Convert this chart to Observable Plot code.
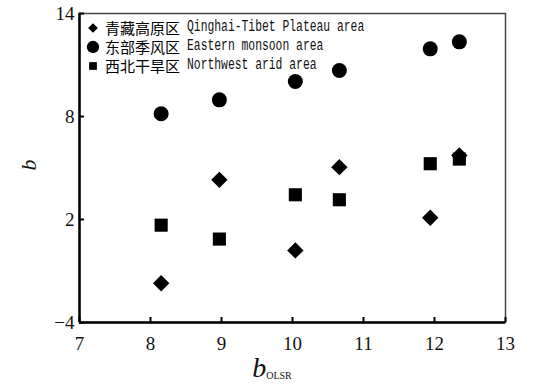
<!DOCTYPE html>
<html>
<head>
<meta charset="utf-8">
<script src="https://cdn.jsdelivr.net/npm/d3@7"></script>
<script src="https://cdn.jsdelivr.net/npm/@observablehq/plot@0.6"></script>
<style>
  html, body { margin: 0; padding: 0; background: #fff; }
  #wrap { position: relative; width: 556px; height: 384px; }
  #legend { position: absolute; left: 86px; top: 18px; }
  .row { display: flex; align-items: center; height: 19px; white-space: nowrap; }
  .row svg { width: 14px; height: 14px; margin-right: 5px; }
  .cn { font-family: "Noto Sans CJK SC", sans-serif; font-size: 15px; line-height: 17px; }
  .en { display: inline-block; font-family: "Liberation Mono", monospace; font-size: 16px; line-height: 17px; transform: scaleX(0.71); transform-origin: left center; margin-left: 7px; color: #111; }
</style>
</head>
<body>
<div id="wrap"></div>
<script>
// Data
const xValues = [8.15, 8.97, 10.04, 10.66, 11.94, 12.35];
const qinghaiTibet = [-1.71, 4.31, 0.2, 5.05, 2.1, 5.73];
const easternMonsoon = [8.16, 8.97, 10.04, 10.68, 11.94, 12.35];
const northwestArid = [1.67, 0.86, 3.44, 3.15, 5.25, 5.52];
const seriesNamesCn = ["青藏高原区", "东部季风区", "西北干旱区"];
const seriesNamesEn = ["Qinghai-Tibet Plateau area", "Eastern monsoon area", "Northwest arid area"];
const seriesSymbols = ["diamond2", "circle", "square"];
const xTicks = [7, 8, 9, 10, 11, 12, 13];
const yTicks = [-4, 2, 8, 14];

const seriesValues = [qinghaiTibet, easternMonsoon, northwestArid];
const rows = [];
seriesValues.forEach((vals, s) => vals.forEach((v, i) => rows.push({x: xValues[i], y: v, s})));
const rFor = {diamond2: 7.4, circle: 7.5, square: 7.4};

const W = 556, H = 384, mL = 79, mR = 51, mT = 13, mB = 62;
const tickLen = 5;

const chart = Plot.plot({
  width: W,
  height: H,
  marginLeft: mL,
  marginRight: mR,
  marginTop: mT,
  marginBottom: mB,
  style: {fontFamily: "Liberation Serif, serif", fontSize: "19px", color: "#111", background: "#fff"},
  x: {domain: [7, 13], ticks: xTicks},
  y: {domain: [-4, 14], ticks: yTicks},
  marks: [
    Plot.frame({stroke: "#444", strokeWidth: 1.5}),
    Plot.ruleX([7], {stroke: "#000", strokeWidth: 2.5}),
    Plot.ruleY([-4], {stroke: "#000", strokeWidth: 2.5}),
    Plot.tickX(xTicks, {x: d => d, stroke: "#000", strokeWidth: 2, insetTop: H - mT - mB - tickLen}),
    Plot.tickY(yTicks, {y: d => d, stroke: "#000", strokeWidth: 2, insetRight: W - mL - mR - tickLen}),
    Plot.axisX({ticks: xTicks, tickSize: 0, tickPadding: 14, tickFormat: d3.format("d"), label: null}),
    Plot.axisY({ticks: yTicks, tickSize: 0, tickPadding: 5, tickFormat: d => d3.format("d")(d).replace("-", "\u2212"), label: null}),
    ...seriesSymbols.map((sym, s) =>
      Plot.dot(rows.filter(d => d.s === s), {x: "x", y: "y", symbol: () => sym, r: rFor[sym], fill: "#000", stroke: "none"})
    )
  ]
});

const svg = d3.select(chart);
// Axis titles
const xl = svg.append("text")
  .attr("x", 272).attr("y", 377)
  .attr("font-family", "Liberation Serif, serif");
xl.append("tspan").attr("font-style", "italic").attr("font-size", 28).text("b");
xl.append("tspan").attr("font-size", 10).attr("dy", 2).text("OLSR");

svg.append("text")
  .attr("transform", "translate(36,165) rotate(-90)")
  .attr("text-anchor", "middle")
  .attr("font-family", "Liberation Serif, serif")
  .attr("font-style", "italic")
  .attr("font-size", 22)
  .text("b");

const wrap = document.getElementById("wrap");
wrap.appendChild(chart);

// Legend overlay
const legend = document.createElement("div");
legend.id = "legend";
seriesNamesCn.forEach((cn, i) => {
  const row = document.createElement("div");
  row.className = "row";
  const sym = d3.create("svg").attr("viewBox", "-7 -7 14 14");
  const size = {diamond2: 60, circle: 120, square: 60}[seriesSymbols[i]];
  const symType = {diamond2: d3.symbolDiamond2, circle: d3.symbolCircle, square: d3.symbolSquare}[seriesSymbols[i]];
  sym.append("path").attr("d", d3.symbol(symType, size)()).attr("fill", "#000");
  row.appendChild(sym.node());
  const c = document.createElement("span"); c.className = "cn"; c.textContent = cn;
  const e = document.createElement("span"); e.className = "en"; e.textContent = seriesNamesEn[i];
  row.appendChild(c); row.appendChild(e);
  legend.appendChild(row);
});
wrap.appendChild(legend);
</script>
</body>
</html>
